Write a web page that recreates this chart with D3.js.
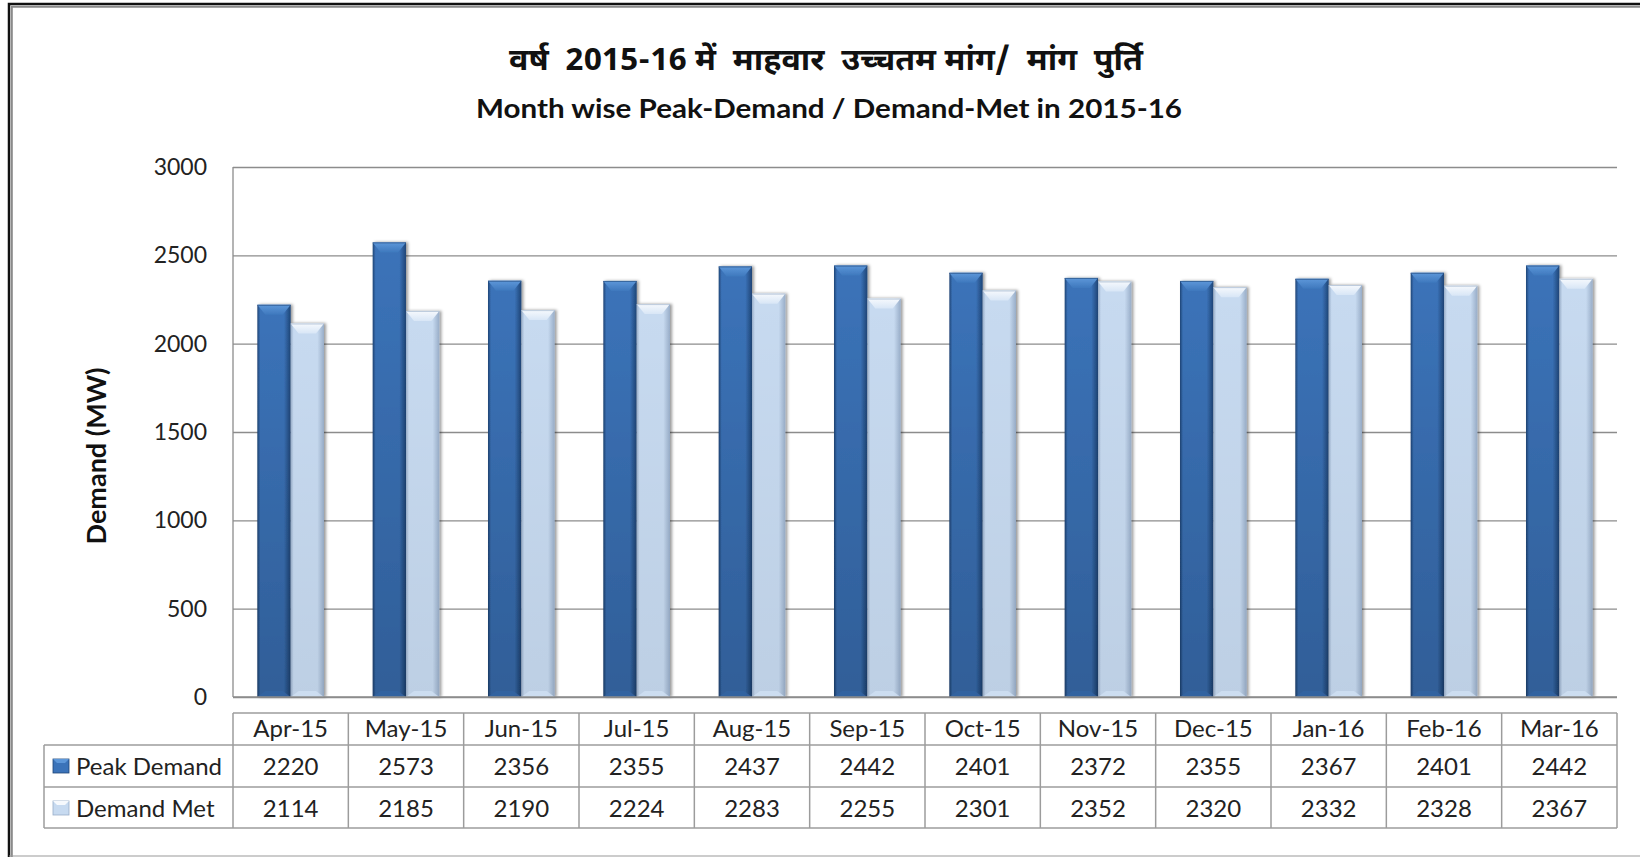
<!DOCTYPE html>
<html>
<head>
<meta charset="utf-8">
<script src="https://cdn.jsdelivr.net/npm/d3@7"></script>
<style>
  html, body { margin: 0; padding: 0; background: #fff; }
  svg { display: block; font-family: Lato, "Open Sans", sans-serif; }
  .tick-label { font-size: 23px; fill: #222; }
  .cell-text { font-size: 24px; fill: #222; }
</style>
</head>
<body>
<div id="chart"></div>
<script>
const MONTHS = ["Apr-15", "May-15", "Jun-15", "Jul-15", "Aug-15", "Sep-15",
  "Oct-15", "Nov-15", "Dec-15", "Jan-16", "Feb-16", "Mar-16"];
const PEAK_DEMAND = [2220, 2573, 2356, 2355, 2437, 2442, 2401, 2372, 2355, 2367, 2401, 2442];
const DEMAND_MET = [2114, 2185, 2190, 2224, 2283, 2255, 2301, 2352, 2320, 2332, 2328, 2367];
const Y_TICKS = [0, 500, 1000, 1500, 2000, 2500, 3000];

const SERIES = [
  { key: "peak", label: "Peak Demand", values: PEAK_DEMAND },
  { key: "met", label: "Demand Met", values: DEMAND_MET },
];

const STYLE = {
  peak: { top: "#3b73b9", edge: "#1f4577", bevel: "#5d97d9", bevel2: "#3e78bd", foot: "#3464a2", shade: 0.18 },
  met: { top: "#c7daf0", edge: "#98adc8", bevel: "#f6f9fd", bevel2: "#d8e6f6", foot: "#d0e0f2", shade: 0.05 },
};

const WIDTH = 1640, HEIGHT = 857;
const PLOT = { left: 233, right: 1617, top: 167, bottom: 697 };
const TABLE = { left: 44, headTop: 713, headBottom: 745, row1: 787, row2: 828 };

const svg = d3.select("#chart").append("svg")
  .attr("width", WIDTH).attr("height", HEIGHT)
  .attr("viewBox", `0 0 ${WIDTH} ${HEIGHT}`);

const defs = svg.append("defs");

// —— gradients per series ——
for (const s of SERIES) {
  const st = STYLE[s.key];
  const h = defs.append("linearGradient").attr("id", `body-${s.key}`)
    .attr("x1", 0).attr("x2", 1).attr("y1", 0).attr("y2", 0);
  h.append("stop").attr("offset", "0%").attr("stop-color", st.edge);
  h.append("stop").attr("offset", "9%").attr("stop-color", st.top);
  h.append("stop").attr("offset", "80%").attr("stop-color", st.top);
  h.append("stop").attr("offset", "100%").attr("stop-color", st.edge);

  const b = defs.append("linearGradient").attr("id", `bevel-${s.key}`)
    .attr("x1", 0).attr("x2", 0).attr("y1", 0).attr("y2", 1);
  b.append("stop").attr("offset", "0%").attr("stop-color", st.bevel);
  b.append("stop").attr("offset", "100%").attr("stop-color", st.bevel2);

  const sh = defs.append("linearGradient").attr("id", `shade-${s.key}`)
    .attr("x1", 0).attr("x2", 0).attr("y1", 0).attr("y2", 1);
  sh.append("stop").attr("offset", "0%").attr("stop-color", "#000").attr("stop-opacity", 0);
  sh.append("stop").attr("offset", "100%").attr("stop-color", "#000").attr("stop-opacity", st.shade);
}

defs.append("filter").attr("id", "barShadow")
  .attr("x", "-20%").attr("y", "-5%").attr("width", "150%").attr("height", "110%")
  .append("feDropShadow")
  .attr("dx", 2).attr("dy", 0).attr("stdDeviation", 1.6)
  .attr("flood-color", "#000").attr("flood-opacity", 0.4);

// —— frame ——
svg.append("path").attr("d", `M9,857 V4 H1640`)
  .attr("fill", "none").attr("stroke", "#111").attr("stroke-width", 2.5);
svg.append("path").attr("d", `M11.8,857 V6.8 H1640`)
  .attr("fill", "none").attr("stroke", "#8a8a8a").attr("stroke-width", 2);
svg.append("line").attr("x1", 9).attr("x2", 1640).attr("y1", 856).attr("y2", 856)
  .attr("stroke", "#9a9a9a").attr("stroke-width", 1.2);

// —— titles ——
svg.append("text")
  .attr("x", 826).attr("y", 70)
  .attr("text-anchor", "middle")
  .attr("textLength", 634).attr("lengthAdjust", "spacingAndGlyphs")
  .style("white-space", "pre")
  .style("font-family", "'Noto Sans Devanagari', 'Lohit Devanagari', 'Noto Sans', sans-serif")
  .style("font-weight", "bold").style("font-size", "31px").style("fill", "#111")
  .text("वर्ष  2015-16 में  माहवार  उच्चतम मांग/  मांग  पुर्ति");

svg.append("text")
  .attr("x", 829).attr("y", 118)
  .attr("text-anchor", "middle")
  .attr("textLength", 706).attr("lengthAdjust", "spacingAndGlyphs")
  .style("font-weight", "bold").style("font-size", "26px").style("fill", "#111")
  .text("Month wise Peak-Demand / Demand-Met in 2015-16");

// —— scales ——
const x = d3.scaleBand().domain(MONTHS)
  .range([PLOT.left, PLOT.right]).paddingInner(0.422).paddingOuter(0.211);
const xs = d3.scaleBand().domain(SERIES.map((s) => s.key)).range([0, x.bandwidth()]);
const cols = d3.scaleBand().domain(MONTHS).range([PLOT.left, PLOT.right]);
const y = d3.scaleLinear().domain([0, 3000]).range([PLOT.bottom, PLOT.top]);

// —— gridlines + y axis ——
const yAxis = svg.append("g").attr("transform", `translate(${PLOT.left},0)`)
  .call(d3.axisLeft(y).tickValues(Y_TICKS).tickFormat(d3.format("d"))
    .tickSize(-(PLOT.right - PLOT.left)).tickPadding(26));
yAxis.attr("font-family", null).attr("font-size", null);
yAxis.select(".domain").remove();
yAxis.selectAll(".tick line").attr("stroke", "#8c8c8c").attr("stroke-width", 1.3);
yAxis.selectAll(".tick text").attr("class", "tick-label");

svg.append("line")
  .attr("x1", PLOT.left).attr("x2", PLOT.left).attr("y1", PLOT.top).attr("y2", PLOT.bottom)
  .attr("stroke", "#8c8c8c").attr("stroke-width", 1.3);

svg.append("text")
  .attr("transform", `translate(106,456) rotate(-90)`)
  .attr("text-anchor", "middle")
  .style("font-weight", "bold").style("font-size", "27px").style("fill", "#111")
  .text("Demand (MW)");

// —— bars ——
const barData = [];
MONTHS.forEach((m, i) => {
  for (const s of SERIES) barData.push({ month: m, key: s.key, value: s.values[i] });
});

const bars = svg.append("g").selectAll("g.bar").data(barData).join("g")
  .attr("class", "bar")
  .attr("filter", "url(#barShadow)");

const BEV_W = 8, BEV_H = 10, FOOT_H = 6;
bars.each(function (d) {
  const g = d3.select(this);
  const x0 = x(d.month) + xs(d.key);
  const w = xs.bandwidth();
  const yt = y(d.value);
  const yb = y(0);
  const st = STYLE[d.key];
  g.append("rect").attr("x", x0).attr("y", yt).attr("width", w).attr("height", yb - yt)
    .attr("fill", `url(#body-${d.key})`);
  g.append("rect").attr("x", x0).attr("y", yt).attr("width", w).attr("height", yb - yt)
    .attr("fill", `url(#shade-${d.key})`);
  g.append("path")
    .attr("d", `M${x0},${yt} H${x0 + w} L${x0 + w - BEV_W},${yt + BEV_H} H${x0 + BEV_W} Z`)
    .attr("fill", `url(#bevel-${d.key})`);
  g.append("path")
    .attr("d", `M${x0},${yb} H${x0 + w} L${x0 + w - BEV_W},${yb - FOOT_H} H${x0 + BEV_W} Z`)
    .attr("fill", st.foot).attr("opacity", 0.8);
  g.append("line").attr("x1", x0).attr("x2", x0 + w).attr("y1", yt + 0.5).attr("y2", yt + 0.5)
    .attr("stroke", st.edge).attr("stroke-opacity", 0.6);
});

// —— baseline ——
svg.append("line")
  .attr("x1", PLOT.left).attr("x2", PLOT.right).attr("y1", PLOT.bottom).attr("y2", PLOT.bottom)
  .attr("stroke", "#8c8c8c").attr("stroke-width", 1.3);

// —— data table ——
const table = svg.append("g");
const lineColor = "#9c9c9c";
const hLine = (x1, x2, yy) => table.append("line").attr("x1", x1).attr("x2", x2)
  .attr("y1", yy).attr("y2", yy).attr("stroke", lineColor).attr("stroke-width", 1.5);
const vLine = (xx, y1, y2) => table.append("line").attr("x1", xx).attr("x2", xx)
  .attr("y1", y1).attr("y2", y2).attr("stroke", lineColor).attr("stroke-width", 1.5);

hLine(PLOT.left, PLOT.right, TABLE.headTop);
hLine(TABLE.left, PLOT.right, TABLE.headBottom);
hLine(TABLE.left, PLOT.right, TABLE.row1);
hLine(TABLE.left, PLOT.right, TABLE.row2);
vLine(TABLE.left, TABLE.headBottom, TABLE.row2);
MONTHS.forEach((m) => vLine(cols(m), TABLE.headTop, TABLE.row2));
vLine(PLOT.right, TABLE.headTop, TABLE.row2);

table.selectAll("text.head").data(MONTHS).join("text")
  .attr("class", "cell-text head")
  .attr("x", (m) => cols(m) + cols.bandwidth() / 2)
  .attr("y", TABLE.headTop + 24)
  .attr("text-anchor", "middle")
  .text((m) => m);

const rowTops = [TABLE.headBottom, TABLE.row1];
SERIES.forEach((s, r) => {
  const yy = rowTops[r] + 30;
  const st = STYLE[s.key];
  // legend key
  const kx = 53, ky = rowTops[r] + 14;
  table.append("rect").attr("x", kx).attr("y", ky).attr("width", 16).attr("height", 14)
    .attr("fill", st.top).attr("stroke", st.edge).attr("stroke-width", 0.8);
  table.append("path")
    .attr("d", `M${kx},${ky} H${kx + 16} L${kx + 12},${ky + 4} H${kx + 4} Z`)
    .attr("fill", st.bevel);
  table.append("text").attr("class", "cell-text").attr("x", 76).attr("y", yy).text(s.label);

  table.selectAll(`text.v-${s.key}`).data(s.values).join("text")
    .attr("class", `cell-text v-${s.key}`)
    .attr("x", (_, i) => cols(MONTHS[i]) + cols.bandwidth() / 2)
    .attr("y", yy)
    .attr("text-anchor", "middle")
    .text((v) => v);
});
</script>
</body>
</html>
